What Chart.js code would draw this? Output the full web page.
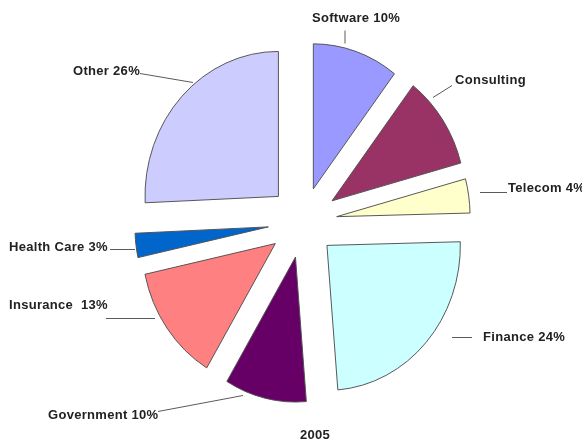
<!DOCTYPE html>
<html>
<head>
<meta charset="utf-8">
<script src="https://cdn.jsdelivr.net/npm/chart.js@4/dist/chart.umd.min.js"></script>
<style>
  html, body { margin: 0; padding: 0; background: #fff; }
</style>
</head>
<body>
<canvas id="pie" width="582" height="443"></canvas>
<script>
// 2005 split by sector — exploded pie with leader labels

const SECTORS  = ["Software", "Consulting", "Telecom", "Finance", "Government", "Insurance", "Health Care", "Other"];
// shares as measured from the slice angles (captions carry the rounded figures)
const SHARES   = [10.4, 10.4, 3.8, 24.1, 9.9, 13.0, 2.7, 25.7];
const CAPTIONS = ["Software 10%", "Consulting", "Telecom 4%", "Finance 24%", "Government 10%", "Insurance  13%", "Health Care 3%", "Other 26%"];
const YEAR     = "2005";

const COLORS   = ["#9999ff", "#993366", "#ffffcc", "#ccffff", "#660066", "#ff8080", "#0066cc", "#ccccff"];
const EXPLODE  = [35, 38, 37, 35, 36, 37, 38, 37];   // px each slice is pulled out
const SQUASH_X = 0.92;                                // pie is slightly narrower than tall

// label layout: text x, text y, leader x1, y1, x2, y2
const LABEL_POS = [
  [312, 18,  345, 30,  345, 43],
  [455, 80,  433, 97,  452, 85],
  [508, 188, 480, 192, 507, 192],
  [483, 337, 452, 337, 472, 337],
  [48,  415, 158, 411, 243, 395],
  [9,   305, 106, 318, 155, 318],
  [9,   247, 110, 249, 135, 249],
  [73,  71,  140, 73,  193, 82],
];
const YEAR_POS = [315, 435];
const FONT = "bold 13px 'Liberation Sans', Arial, sans-serif";

// ── pull every slice out along its middle angle ─────────────────────────────
const explodePlugin = {
  id: "explode",
  afterDatasetUpdate(chart, args) {
    args.meta.data.forEach((arc, i) => {
      const mid = (arc.startAngle + arc.endAngle) / 2;
      arc.x += Math.cos(mid) * EXPLODE[i];
      arc.y += Math.sin(mid) * EXPLODE[i];
    });
  },
};

// ── squash the slices horizontally around the pie centre ───────────────────
const squashPlugin = {
  id: "squash",
  beforeDatasetDraw(chart) {
    const { ctx, chartArea } = chart;
    const cx = (chartArea.left + chartArea.right) / 2;
    ctx.save();
    ctx.translate(cx, 0);
    ctx.scale(SQUASH_X, 1);
    ctx.translate(-cx, 0);
  },
  afterDatasetDraw(chart) {
    chart.ctx.restore();
  },
};

// ── leader lines, captions and the year ────────────────────────────────────
const labelPlugin = {
  id: "sliceLabels",
  afterDraw(chart) {
    const ctx = chart.ctx;
    ctx.save();
    ctx.strokeStyle = "#5a5a5a";
    ctx.lineWidth = 1;
    ctx.fillStyle = "#222";
    ctx.font = FONT;
    ctx.letterSpacing = "0.3px";
    ctx.textBaseline = "middle";
    CAPTIONS.forEach((txt, i) => {
      const [tx, ty, x1, y1, x2, y2] = LABEL_POS[i];
      ctx.beginPath();
      ctx.moveTo(x1, y1 + 0.5);
      ctx.lineTo(x2, y2 + 0.5);
      ctx.stroke();
      ctx.textAlign = "left";
      ctx.fillText(txt, tx, ty);
    });
    ctx.textAlign = "center";
    ctx.fillText(YEAR, YEAR_POS[0], YEAR_POS[1]);
    ctx.restore();
  },
};

new Chart(document.getElementById("pie").getContext("2d"), {
  type: "pie",
  data: {
    labels: SECTORS,
    datasets: [{
      data: SHARES,
      backgroundColor: COLORS,
      borderColor: "#505050",
      borderWidth: 1,
    }],
  },
  options: {
    responsive: false,
    animation: false,
    events: [],
    radius: 145,
    layout: { padding: { left: 24, right: 0, top: 1, bottom: 0 } },
    plugins: {
      legend: { display: false },
      tooltip: { enabled: false },
    },
  },
  plugins: [explodePlugin, squashPlugin, labelPlugin],
});
</script>
</body>
</html>
